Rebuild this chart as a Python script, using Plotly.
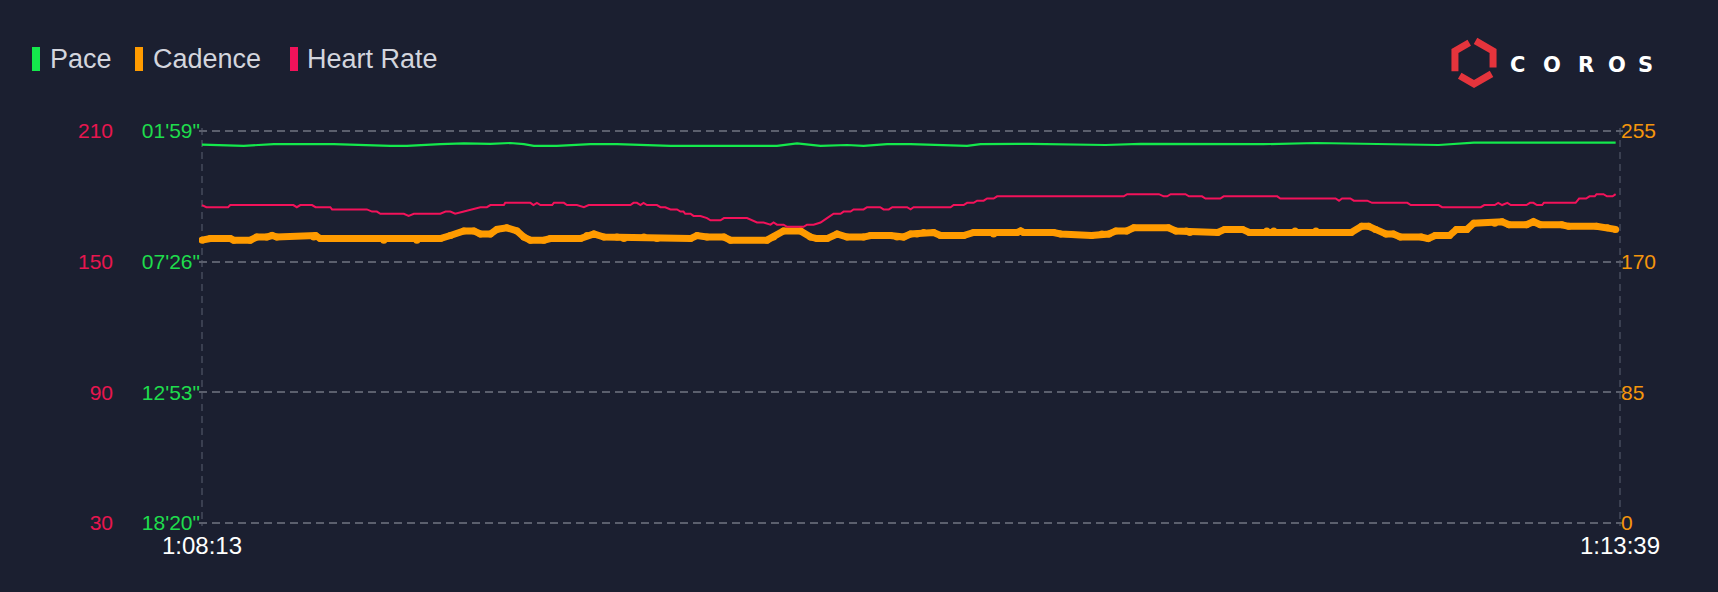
import math
import plotly.graph_objects as go

# ---------------- data ----------------
x_tick_vals = [0, 326]
x_tick_text = ["1:08:13", "1:13:39"]
x_range = [0, 326]

hr_ticks = [30, 90, 150, 210]
pace_ticks = [119, 446, 773, 1100]
pace_tick_text = ["01'59\"", "07'26\"", "12'53\"", "18'20\""]
cad_ticks = [0, 85, 170, 255]

# heart rate (bpm) vs seconds from 1:08:13
hr_t = [0, 1, 6, 6.5, 21, 21.8, 22.6, 25.3, 26.1, 29.5,
        29.9, 37.9, 39.1, 40.2, 41, 46.4, 47.5, 48.7, 54.8, 56,
        57.1, 58.2, 60.2, 62.5, 64, 65.5, 66.3, 69.4, 69.7, 75.5,
        76.2, 77, 77.8, 80.5, 80.9, 83.2, 83.9, 86.2, 87.8, 88.9,
        98.5, 99.2, 100, 100.8, 101.5, 102.3, 104.6, 105.4, 106.5, 107.7,
        109.2, 110, 110.7, 111.1, 112.3, 113, 114.6, 116.1, 116.9, 119.2,
        120, 125.3, 126.5, 127.6, 129.1, 130.7, 131.4, 132.2, 133.7, 134.5,
        138.3, 139.1, 140.6, 142.2, 143.7, 145.2, 146.8, 147.5, 149.1, 149.8,
        152.1, 152.9, 155.9, 156.7, 157.9, 158.7, 162.1, 162.9, 163.6, 172.1,
        172.8, 175.1, 175.9, 177.4, 178.2, 179.7, 180.5, 182, 182.8, 211.9,
        212.7, 220, 221.1, 221.9, 222.7, 226.1, 226.9, 229.9, 230.7, 234.1,
        234.9, 247.2, 247.9, 260.6, 261.4, 262.1, 264, 264.8, 267.9, 269,
        277.1, 277.9, 284.3, 285.1, 294, 294.8, 297.2, 298, 298.9, 300.1,
        300.9, 304.5, 305.3, 306.1, 306.9, 308.1, 308.5, 315.8, 316.6, 318.2,
        319, 320.2, 320.6, 322.2, 323, 324.3, 325]
hr_v = [176, 175, 175, 176, 176, 175, 176, 176, 175, 175,
        174, 174, 173, 173, 172, 172, 171, 172, 172, 173,
        173, 172, 173, 174, 175, 175, 176, 176, 177, 177,
        176, 177, 176, 176, 177, 177, 176, 176, 175, 176,
        176, 177, 177, 176, 177, 176, 176, 175, 175, 174,
        174, 173, 173, 172, 172, 171, 171, 170, 169, 169,
        170, 170, 169, 168, 168, 167, 168, 167, 167, 166,
        166, 167, 167, 168, 170, 172, 172, 173, 173, 174,
        174, 175, 175, 174, 174, 175, 175, 174, 175, 175,
        176, 176, 177, 177, 178, 178, 179, 179, 180, 180,
        181, 181, 180, 180, 181, 181, 180, 180, 179, 179,
        180, 180, 179, 179, 178, 179, 179, 178, 178, 177,
        177, 176, 176, 175, 175, 176, 176, 177, 176, 177,
        176, 176, 177, 177, 176, 176, 177, 177, 179, 179,
        180, 180, 181, 181, 180, 180, 181]

# pace (seconds per km)
pace_t = [0, 9.6, 16.5, 30.3, 43.3, 47.1, 54.8, 60.2, 66.3, 70.9,
          74, 76.3, 81.6, 89.3, 95.4, 100.8, 107.7, 121.5, 132.2, 136.8,
          142.2, 148.3, 152.1, 157.5, 162.9, 175.9, 179, 190.5, 202, 207.7,
          215.8, 244, 256.1, 268.2, 276.3, 284.3, 292.4, 325]
pace_v = [153, 156, 152, 152, 156, 156, 152, 150, 151, 149,
          152, 156, 156, 152, 152, 154, 156, 156, 156, 150,
          156, 154, 156, 152, 152, 156, 152, 151, 152, 154,
          151, 152, 149, 151, 154, 154, 148, 148]

# cadence (spm)
cad_t = [0, 1.9, 6.5, 7.3, 11.1, 12.6, 14.9, 16.1, 17.2, 25.7,
         26.1, 27.2, 40.2, 41.8, 49.4, 51, 54.8, 57.1, 60.2, 62.5,
         64, 66.3, 67.8, 70.1, 72.4, 74, 75.5, 78.6, 80.1, 87,
         88.5, 90.1, 92.4, 95.4, 97, 101.6, 104.6, 112.3, 113.8, 116.1,
         120, 121.5, 129.9, 131.4, 133.7, 137.6, 139.9, 141.4, 143.7, 146,
         148.3, 152.1, 153.7, 158.3, 159.8, 161.3, 162.9, 164.4, 165.9, 168.2,
         169.8, 175.1, 177.4, 180.5, 182, 183.6, 187.4, 188.2, 188.9, 195.8,
         197.4, 204.5, 206.9, 208.5, 210.1, 212.6, 214.2, 222.2, 223.9, 226.3,
         227.1, 233.5, 235.1, 239.2, 240.8, 243.2, 244.8, 246.4, 248, 249.7,
         251.3, 256.1, 257.7, 264.2, 266.6, 268.2, 269.8, 272.2, 273.9, 275.5,
         280.3, 281.9, 283.5, 286.8, 288.4, 290.8, 292.4, 297.2, 298.9, 300.5,
         304.5, 306.1, 307.7, 312.6, 314.2, 320.6, 323.1, 325]
cad_v = [184, 185, 185, 184, 184, 186, 186, 187, 186, 186,
         187, 185, 185, 184, 184, 185, 185, 187, 190, 190,
         188, 188, 191, 192, 190, 186, 184, 184, 185, 185,
         187, 188, 186, 186, 185, 186, 185, 185, 187, 186,
         186, 184, 184, 186, 190, 190, 186, 185, 185, 188,
         186, 186, 187, 187, 186, 186, 188, 188, 189, 189,
         187, 187, 189, 189, 188, 189, 189, 190, 189, 189,
         188, 187, 188, 188, 190, 190, 192, 192, 190, 190,
         189, 189, 191, 191, 189, 189, 190, 190, 189, 189,
         190, 190, 189, 189, 193, 193, 191, 188, 188, 186,
         186, 185, 187, 187, 191, 191, 195, 195, 196, 194,
         194, 196, 194, 194, 193, 193, 192, 191]

legend_labels = ["Pace", "Cadence", "Heart Rate"]
logo_letters = ["C", "O", "R", "O", "S"]

# ---------------- style ----------------
BG = "#1b1f30"
GREEN = "#14e84c"
ORANGE = "#ff9b00"
RED = "#f2125a"
RED_LABEL = "#e8164f"
GREEN_LABEL = "#1fdc4c"
ORANGE_LABEL = "#f5960c"
GRID = "#5b5f6d"
VGRID = "#3a3f50"
FONT = "Liberation Sans, Arial, sans-serif"

W, H = 1718, 592
# inner chart box (where the edge grid lines sit)
BOX_L, BOX_R, BOX_T, BOX_B = 202, 1620, 131, 523
PAD = 3  # extra px so that grid lines on the box edges are drawn
ML = BOX_L - PAD
MR = W - BOX_R - PAD
MT = BOX_T - PAD
MB = H - BOX_B - PAD
PW = W - ML - MR
PH = H - MT - MB
BOX_W = BOX_R - BOX_L
BOX_H = BOX_B - BOX_T


def padded(lo, hi, span_px):
    d = (hi - lo) * PAD / span_px
    return [lo - d, hi + d]


def px(x):
    return (x - ML) / PW


def py(y):
    return (H - MB - y) / PH


fig = go.Figure()

fig.add_trace(go.Scatter(
    x=cad_t, y=cad_v, yaxis="y", mode="lines+markers",
    line=dict(color=ORANGE, width=7),
    marker=dict(color=ORANGE, size=7),
    hoverinfo="skip", showlegend=False))

fig.add_trace(go.Scatter(
    x=hr_t, y=hr_v, yaxis="y2", mode="lines",
    line=dict(color=RED, width=2),
    hoverinfo="skip", showlegend=False))

fig.add_trace(go.Scatter(
    x=pace_t, y=pace_v, yaxis="y3", mode="lines",
    line=dict(color=GREEN, width=2.2),
    hoverinfo="skip", showlegend=False))

pace_r = padded(pace_ticks[0], pace_ticks[-1], BOX_H)

fig.update_layout(
    width=W, height=H,
    margin=dict(l=ML, r=MR, t=MT, b=MB, pad=0),
    paper_bgcolor=BG, plot_bgcolor=BG,
    template="none",
    showlegend=False,
    hovermode=False,
    xaxis=dict(
        range=padded(x_range[0], x_range[1], BOX_W),
        tickvals=x_tick_vals, ticktext=x_tick_text,
        showgrid=True, gridcolor=VGRID, griddash="7px,5px", gridwidth=1.6,
        zeroline=False, showline=False, ticks="",
        ticklabelstandoff=3,
        tickfont=dict(family=FONT, size=24, color="#ffffff"),
        automargin=False, fixedrange=True),
    yaxis=dict(
        range=padded(cad_ticks[0], cad_ticks[-1], BOX_H),
        tickvals=cad_ticks, side="right", anchor="x",
        showgrid=True, gridcolor=GRID, griddash="8px,5px", gridwidth=1.6,
        zeroline=False, showline=False, ticks="",
        ticklabelstandoff=-3,
        tickfont=dict(family=FONT, size=21, color=ORANGE_LABEL),
        automargin=False, fixedrange=True),
    yaxis2=dict(
        range=padded(hr_ticks[0], hr_ticks[-1], BOX_H),
        tickvals=hr_ticks, side="left", overlaying="y",
        anchor="x", showgrid=False, zeroline=False, showline=False, ticks="",
        ticklabelstandoff=85,
        tickfont=dict(family=FONT, size=21, color=RED_LABEL),
        automargin=False, fixedrange=True),
    yaxis3=dict(
        range=[pace_r[1], pace_r[0]], tickvals=pace_ticks, ticktext=pace_tick_text,
        side="left", overlaying="y", anchor="x",
        showgrid=False, zeroline=False, showline=False, ticks="",
        ticklabelstandoff=-2,
        tickfont=dict(family=FONT, size=21, color=GREEN_LABEL),
        automargin=False, fixedrange=True),
)

shapes = []
annotations = []

# legend
legend_colors = [GREEN, ORANGE, RED]
legend_bar_x = [32, 135, 290]
legend_text_x = [48, 151, 305]
for lab, col, bx, tx in zip(legend_labels, legend_colors, legend_bar_x, legend_text_x):
    shapes.append(dict(type="rect", xref="paper", yref="paper",
                       x0=px(bx), x1=px(bx + 8), y0=py(71), y1=py(47),
                       fillcolor=col, line=dict(width=0), layer="above"))
    annotations.append(dict(text=lab, xref="paper", yref="paper",
                            x=px(tx), y=py(59), xanchor="left", yanchor="middle",
                            showarrow=False,
                            font=dict(family=FONT, size=27, color="#d3d5dd")))

# logo icon (broken hexagon)
cx, cy, r = 1474, 62, 22
verts = []
for k in range(6):
    a = math.radians(90 + 60 * k)
    verts.append((cx + r * math.cos(a), cy - r * math.sin(a)))
for k in range(3):
    v0 = verts[(2 * k) % 6]
    v1 = verts[(2 * k + 1) % 6]
    v2 = verts[(2 * k + 2) % 6]
    s = (v0[0] + 0.25 * (v1[0] - v0[0]), v0[1] + 0.25 * (v1[1] - v0[1]))
    e = (v1[0] + 0.92 * (v2[0] - v1[0]), v1[1] + 0.92 * (v2[1] - v1[1]))
    path = "M {:.5f},{:.5f} L {:.5f},{:.5f} L {:.5f},{:.5f}".format(
        px(s[0]), py(s[1]), px(v1[0]), py(v1[1]), px(e[0]), py(e[1]))
    shapes.append(dict(type="path", xref="paper", yref="paper", path=path,
                       line=dict(color="#e5343c", width=7), layer="above"))

logo_x = [1517, 1552, 1586, 1617, 1645]
for letter, lx in zip(logo_letters, logo_x):
    annotations.append(dict(text="<b>" + letter + "</b>", xref="paper", yref="paper",
                            x=px(lx), y=py(65), xanchor="center", yanchor="middle",
                            showarrow=False,
                            font=dict(family="DejaVu Sans, sans-serif", size=21,
                                      color="#ffffff")))

fig.update_layout(shapes=shapes, annotations=annotations)

fig.write_html(
    "out.html",
    config={"displayModeBar": False},
    post_script="document.body.style.margin='0px';document.body.style.overflow='hidden';",
)
